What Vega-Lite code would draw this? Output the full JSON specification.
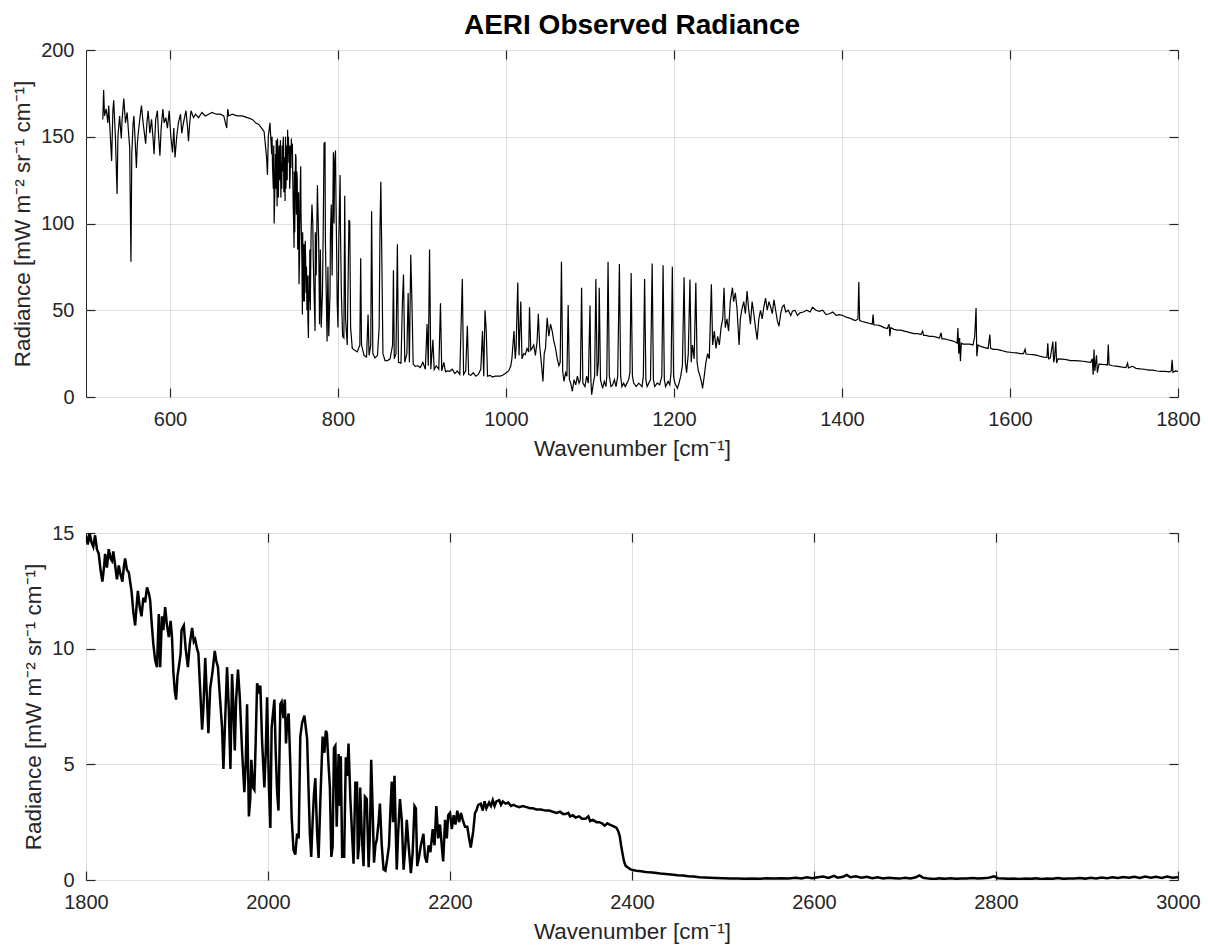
{
"$schema": "https://vega.github.io/schema/vega-lite/v6.json",
"padding": {"left": 11, "top": 11, "right": 5, "bottom": 5},
"background": "white",
"spacing": 62,
"config": {
  "font": "Liberation Sans",
  "view": {"stroke": "#262626", "strokeWidth": 1},
  "axis": {"labelFont": "Liberation Sans", "labelFontSize": 20, "labelColor": "#262626", "titleFont": "Liberation Sans", "titleFontSize": 22.5, "titleFontWeight": "normal", "titleColor": "#262626", "domain": false, "tickColor": "#262626", "tickSize": -9, "tickWidth": 1.2, "gridColor": "#dfdfdf", "gridWidth": 1, "labelFlush": false, "labelOverlap": false, "format": "d"},
  "axisX": {"labelPadding": 21, "titlePadding": 8},
  "axisY": {"labelPadding": 21, "titlePadding": 6}
},
"datasets": {
"top": [
{"w":520,"r":160},{"w":521,"r":177},{"w":522,"r":162},{"w":524,"r":166},{"w":526,"r":158},{"w":527,"r":168},{"w":529,"r":150},{"w":530.5,"r":136},{"w":532,"r":165},{"w":533,"r":171},{"w":535,"r":150},{"w":537,"r":117},{"w":538,"r":150},{"w":540,"r":162},{"w":542,"r":149},{"w":543,"r":160},{"w":545,"r":172},{"w":547,"r":158},{"w":549,"r":164},{"w":551,"r":150},{"w":552,"r":144},{"w":553.5,"r":78},{"w":554.5,"r":140},{"w":556,"r":157},{"w":557,"r":162},{"w":558.5,"r":148},{"w":560,"r":132},{"w":561,"r":145},{"w":562,"r":151},{"w":564,"r":160},{"w":566,"r":168},{"w":568,"r":158},{"w":570,"r":150},{"w":571,"r":146},{"w":572.5,"r":158},{"w":574,"r":165},{"w":576,"r":152},{"w":578,"r":160},{"w":580,"r":148},{"w":581,"r":140},{"w":583,"r":160},{"w":585,"r":165},{"w":586.5,"r":150},{"w":588,"r":139},{"w":589.5,"r":155},{"w":591.5,"r":166},{"w":593,"r":158},{"w":595,"r":161},{"w":597,"r":155},{"w":599,"r":165},{"w":601,"r":150},{"w":603,"r":141},{"w":604.5,"r":155},{"w":606,"r":138},{"w":608,"r":150},{"w":610,"r":158},{"w":612.5,"r":163},{"w":614,"r":152},{"w":616,"r":158},{"w":619,"r":165},{"w":621,"r":155},{"w":622,"r":147.5},{"w":623.5,"r":158},{"w":625,"r":165},{"w":628,"r":161},{"w":630.5,"r":163},{"w":634,"r":161},{"w":638,"r":164},{"w":642,"r":162},{"w":646,"r":163},{"w":650,"r":164},{"w":655,"r":163},{"w":660,"r":163},{"w":664,"r":162},{"w":667.5,"r":155},{"w":668.7,"r":166},{"w":670,"r":162},{"w":674,"r":163},{"w":680,"r":162},{"w":686,"r":162},{"w":692,"r":161},{"w":698,"r":160},{"w":702,"r":158},{"w":706,"r":157},{"w":709,"r":155},{"w":712,"r":153},{"w":713,"r":148},{"w":714,"r":143},{"w":715,"r":138},{"w":716,"r":128},{"w":717,"r":150},{"w":719,"r":158},{"w":720.5,"r":145},{"w":721,"r":140},{"w":721.5,"r":150},{"w":722,"r":134},{"w":723,"r":120},{"w":723.5,"r":145},{"w":724,"r":100},{"w":724.5,"r":112},{"w":725,"r":125},{"w":725.5,"r":140},{"w":726,"r":120},{"w":726.5,"r":148},{"w":727,"r":135},{"w":727.5,"r":110},{"w":728,"r":149},{"w":728.5,"r":140},{"w":729,"r":115},{"w":729.5,"r":130},{"w":730,"r":145},{"w":730.5,"r":125},{"w":731,"r":140},{"w":731.5,"r":148},{"w":732,"r":115},{"w":732.5,"r":135},{"w":733,"r":120},{"w":733.5,"r":145},{"w":734,"r":130},{"w":734.6,"r":147},{"w":735,"r":150},{"w":735.5,"r":118},{"w":736,"r":125},{"w":736.5,"r":138},{"w":737,"r":113},{"w":737.5,"r":150},{"w":738,"r":120},{"w":738.5,"r":140},{"w":739,"r":145},{"w":739.5,"r":125},{"w":740,"r":154},{"w":740.5,"r":140},{"w":741,"r":150},{"w":741.5,"r":135},{"w":742,"r":145},{"w":742.5,"r":120},{"w":743,"r":128},{"w":743.5,"r":145},{"w":744,"r":132},{"w":744.5,"r":149},{"w":745,"r":140},{"w":745.7,"r":146},{"w":746.2,"r":125},{"w":746.7,"r":110},{"w":747.2,"r":100},{"w":747.7,"r":86},{"w":748,"r":130},{"w":748.5,"r":95},{"w":749,"r":120},{"w":749.5,"r":140},{"w":750,"r":138},{"w":750.5,"r":105},{"w":751,"r":130},{"w":751.5,"r":125},{"w":752,"r":85},{"w":752.5,"r":100},{"w":753,"r":118},{"w":753.6,"r":65},{"w":754.2,"r":80},{"w":754.7,"r":110},{"w":755.2,"r":125},{"w":755.6,"r":133},{"w":756,"r":105},{"w":756.6,"r":90},{"w":757,"r":80},{"w":757.6,"r":47.5},{"w":758,"r":95},{"w":758.5,"r":55},{"w":759,"r":60},{"w":759.5,"r":88},{"w":760,"r":55},{"w":760.5,"r":80},{"w":761,"r":90},{"w":761.6,"r":76},{"w":762,"r":60},{"w":762.5,"r":75},{"w":763,"r":50},{"w":763.5,"r":70},{"w":764.2,"r":45},{"w":764.8,"r":34},{"w":765.4,"r":70},{"w":766,"r":55},{"w":766.5,"r":85},{"w":767,"r":50},{"w":767.5,"r":75},{"w":768,"r":95},{"w":769,"r":111},{"w":770,"r":100},{"w":770.5,"r":80},{"w":771.5,"r":60},{"w":772.7,"r":38},{"w":773,"r":95},{"w":774,"r":70},{"w":775.5,"r":122},{"w":776,"r":110},{"w":777,"r":90},{"w":778,"r":42},{"w":779,"r":85},{"w":780,"r":40},{"w":781.5,"r":60},{"w":782.5,"r":100},{"w":783.4,"r":146},{"w":784.5,"r":147},{"w":785,"r":90},{"w":786,"r":60},{"w":787,"r":32},{"w":788,"r":75},{"w":789,"r":35},{"w":790.5,"r":60},{"w":791,"r":95},{"w":792,"r":111},{"w":793,"r":70},{"w":794.5,"r":141},{"w":795.3,"r":100},{"w":796,"r":135},{"w":797,"r":142},{"w":797.7,"r":110},{"w":798.5,"r":80},{"w":799,"r":55},{"w":800,"r":40},{"w":801,"r":90},{"w":802.5,"r":128},{"w":803,"r":95},{"w":804,"r":60},{"w":805.5,"r":35},{"w":807,"r":34},{"w":808,"r":116},{"w":809,"r":45},{"w":811,"r":30},{"w":813,"r":102},{"w":814,"r":101},{"w":815,"r":40},{"w":817,"r":28},{"w":820,"r":27},{"w":823,"r":26},{"w":826,"r":30},{"w":827,"r":80},{"w":828,"r":30},{"w":831,"r":24},{"w":834,"r":23},{"w":835.8,"r":47.5},{"w":837,"r":24},{"w":839,"r":30},{"w":840,"r":107},{"w":841.5,"r":25},{"w":844,"r":22.5},{"w":847,"r":24},{"w":849,"r":40},{"w":850,"r":98},{"w":851,"r":124},{"w":852,"r":87},{"w":853.5,"r":25},{"w":856,"r":21},{"w":859,"r":21},{"w":862,"r":22},{"w":865,"r":30},{"w":866,"r":73},{"w":867,"r":22},{"w":869,"r":25},{"w":870.7,"r":88},{"w":872,"r":20},{"w":875,"r":19.5},{"w":876.7,"r":55},{"w":878,"r":70.6},{"w":879.5,"r":20},{"w":882,"r":25},{"w":883.5,"r":60},{"w":885,"r":20},{"w":886.6,"r":82},{"w":888,"r":55},{"w":889.5,"r":19},{"w":892,"r":17.7},{"w":895,"r":18},{"w":898,"r":17},{"w":901,"r":20},{"w":904,"r":16},{"w":906,"r":42},{"w":907.5,"r":18},{"w":909,"r":85},{"w":910.5,"r":16},{"w":913,"r":33},{"w":914.5,"r":15.8},{"w":917,"r":18},{"w":920,"r":16},{"w":922,"r":54},{"w":923.5,"r":15},{"w":926,"r":20},{"w":928,"r":14.5},{"w":930,"r":15},{"w":933,"r":14.8},{"w":936,"r":16},{"w":939,"r":13.5},{"w":942,"r":15},{"w":945,"r":13},{"w":948,"r":68},{"w":949.5,"r":13},{"w":952,"r":15},{"w":954,"r":41},{"w":955.5,"r":13},{"w":958,"r":12.5},{"w":961,"r":14},{"w":964,"r":12},{"w":967,"r":13},{"w":970,"r":16},{"w":972,"r":38},{"w":973.5,"r":12},{"w":975,"r":50},{"w":976.5,"r":38},{"w":978,"r":12},{"w":981,"r":12.5},{"w":984,"r":11.5},{"w":987,"r":12},{"w":990,"r":12},{"w":993,"r":12},{"w":996,"r":12.5},{"w":1000,"r":13.8},{"w":1003,"r":15},{"w":1005.6,"r":17.7},{"w":1007,"r":22},{"w":1009.5,"r":38},{"w":1011,"r":22},{"w":1012,"r":28},{"w":1014,"r":66},{"w":1015.5,"r":24},{"w":1017.6,"r":55},{"w":1019,"r":22},{"w":1021,"r":25},{"w":1023,"r":24.4},{"w":1025,"r":28},{"w":1027,"r":26},{"w":1028,"r":51.7},{"w":1029.5,"r":27},{"w":1031,"r":28},{"w":1033,"r":30},{"w":1035,"r":24},{"w":1037,"r":32},{"w":1038.5,"r":48},{"w":1040,"r":30},{"w":1042,"r":20},{"w":1044,"r":9},{"w":1045.5,"r":25},{"w":1047,"r":28},{"w":1049,"r":45.6},{"w":1051,"r":35},{"w":1053,"r":42},{"w":1055,"r":38},{"w":1057,"r":32},{"w":1059,"r":28},{"w":1061,"r":22},{"w":1063,"r":18},{"w":1064.5,"r":20},{"w":1066,"r":78},{"w":1067.5,"r":15},{"w":1069,"r":9},{"w":1071,"r":14},{"w":1072.5,"r":12},{"w":1074,"r":53},{"w":1075.5,"r":10},{"w":1077,"r":8},{"w":1079,"r":3.3},{"w":1081,"r":10},{"w":1083,"r":7},{"w":1085,"r":12},{"w":1087,"r":8},{"w":1088.5,"r":10},{"w":1090,"r":63},{"w":1091.5,"r":8},{"w":1094,"r":6},{"w":1096,"r":12},{"w":1098,"r":8},{"w":1100,"r":52.7},{"w":1101,"r":10},{"w":1102,"r":1.3},{"w":1104,"r":8},{"w":1105.5,"r":12},{"w":1107,"r":68},{"w":1108.5,"r":12},{"w":1110,"r":20},{"w":1111,"r":63},{"w":1112.5,"r":10},{"w":1115,"r":5},{"w":1117,"r":9},{"w":1119,"r":6},{"w":1120,"r":12},{"w":1121.5,"r":78},{"w":1123,"r":12},{"w":1125,"r":6},{"w":1127,"r":7},{"w":1129,"r":10},{"w":1131,"r":6},{"w":1133,"r":12},{"w":1135,"r":76.7},{"w":1136.5,"r":12},{"w":1138,"r":6},{"w":1140,"r":8},{"w":1142,"r":6},{"w":1144,"r":8},{"w":1146,"r":10},{"w":1147.5,"r":14},{"w":1149,"r":71.5},{"w":1150.5,"r":12},{"w":1152,"r":8},{"w":1155,"r":6},{"w":1158,"r":8},{"w":1160,"r":7},{"w":1162,"r":6},{"w":1163.5,"r":12},{"w":1165,"r":68},{"w":1166.5,"r":10},{"w":1168,"r":6},{"w":1170,"r":8},{"w":1172,"r":10},{"w":1174,"r":77},{"w":1175.5,"r":10},{"w":1177,"r":6},{"w":1180,"r":8},{"w":1183,"r":7},{"w":1185.5,"r":12},{"w":1187,"r":76},{"w":1188.5,"r":10},{"w":1190,"r":6},{"w":1193,"r":9},{"w":1195,"r":7},{"w":1196.5,"r":14},{"w":1198,"r":75},{"w":1199.5,"r":12},{"w":1201,"r":8},{"w":1204,"r":5},{"w":1206,"r":8},{"w":1208,"r":12},{"w":1210,"r":18},{"w":1212,"r":69},{"w":1213.5,"r":20},{"w":1215,"r":14},{"w":1217,"r":25},{"w":1219,"r":67.7},{"w":1220.5,"r":20},{"w":1222,"r":30},{"w":1224,"r":22},{"w":1226,"r":65.8},{"w":1227.5,"r":20},{"w":1229,"r":15},{"w":1231,"r":12},{"w":1233,"r":8},{"w":1234,"r":5},{"w":1236,"r":12},{"w":1238,"r":20},{"w":1240,"r":25},{"w":1242,"r":22},{"w":1244.5,"r":65},{"w":1246,"r":30},{"w":1248,"r":38},{"w":1250,"r":28},{"w":1252,"r":35},{"w":1254,"r":30},{"w":1256,"r":40},{"w":1258,"r":45},{"w":1259.6,"r":63},{"w":1261,"r":40},{"w":1263,"r":45},{"w":1265,"r":38},{"w":1267,"r":55},{"w":1269.6,"r":63},{"w":1271,"r":55},{"w":1273,"r":60},{"w":1275,"r":51},{"w":1277.5,"r":30},{"w":1279,"r":45},{"w":1281,"r":51},{"w":1283,"r":55},{"w":1285,"r":48},{"w":1287,"r":61},{"w":1289,"r":50},{"w":1291,"r":42},{"w":1293,"r":55},{"w":1295,"r":48},{"w":1297,"r":40},{"w":1299,"r":33},{"w":1301,"r":45},{"w":1303,"r":50},{"w":1305,"r":45},{"w":1307,"r":52},{"w":1309,"r":57},{"w":1311,"r":50},{"w":1313,"r":55},{"w":1315,"r":52},{"w":1317,"r":48},{"w":1319,"r":56},{"w":1321,"r":50},{"w":1323,"r":44},{"w":1325,"r":40.8},{"w":1327,"r":48},{"w":1329,"r":52},{"w":1331,"r":53},{"w":1333,"r":49},{"w":1336,"r":50},{"w":1339,"r":47},{"w":1341,"r":49.4},{"w":1344,"r":50},{"w":1347,"r":47},{"w":1350,"r":48.5},{"w":1354,"r":49},{"w":1358,"r":50},{"w":1362,"r":49},{"w":1365,"r":51.7},{"w":1369,"r":50},{"w":1373,"r":49.4},{"w":1377,"r":50},{"w":1381,"r":47.5},{"w":1385,"r":48},{"w":1389,"r":49},{"w":1393,"r":47},{"w":1397,"r":47.5},{"w":1401,"r":47},{"w":1405,"r":46},{"w":1409,"r":45.5},{"w":1413,"r":44.6},{"w":1416,"r":44},{"w":1419,"r":45},{"w":1420,"r":66.3},{"w":1421,"r":44},{"w":1424,"r":43.5},{"w":1428,"r":43},{"w":1432,"r":42.5},{"w":1436,"r":42},{"w":1437,"r":47.5},{"w":1438,"r":41.5},{"w":1442,"r":41.5},{"w":1446,"r":41},{"w":1450,"r":40},{"w":1454,"r":39.5},{"w":1456,"r":42},{"w":1457,"r":35},{"w":1458,"r":40},{"w":1462,"r":39},{"w":1466,"r":38.5},{"w":1470,"r":38.5},{"w":1474,"r":38},{"w":1478,"r":37.5},{"w":1482,"r":37},{"w":1486,"r":36.5},{"w":1490,"r":36.5},{"w":1494,"r":36},{"w":1496,"r":38},{"w":1497,"r":35.5},{"w":1500,"r":35.5},{"w":1504,"r":35},{"w":1508,"r":35},{"w":1512,"r":34.5},{"w":1516,"r":34},{"w":1518,"r":37},{"w":1519,"r":33.5},{"w":1522,"r":33.5},{"w":1526,"r":33},{"w":1530,"r":32.5},{"w":1534,"r":32},{"w":1537,"r":31},{"w":1538,"r":39.8},{"w":1539,"r":25},{"w":1540,"r":34},{"w":1541,"r":20.6},{"w":1542,"r":31},{"w":1544,"r":30.5},{"w":1548,"r":30.5},{"w":1552,"r":30.5},{"w":1556,"r":30},{"w":1558,"r":35},{"w":1559.6,"r":51.3},{"w":1560.5,"r":23.5},{"w":1562,"r":30},{"w":1566,"r":29},{"w":1570,"r":28.5},{"w":1574,"r":28},{"w":1576,"r":36},{"w":1577,"r":28},{"w":1580,"r":27.5},{"w":1584,"r":27.5},{"w":1588,"r":27},{"w":1592,"r":26.5},{"w":1596,"r":26},{"w":1600,"r":25.8},{"w":1604,"r":25.5},{"w":1608,"r":25.4},{"w":1612,"r":25},{"w":1616,"r":25},{"w":1618,"r":27.5},{"w":1619,"r":24.8},{"w":1624,"r":24.5},{"w":1628,"r":24.4},{"w":1632,"r":24},{"w":1636,"r":23.5},{"w":1640,"r":23},{"w":1644,"r":22.8},{"w":1645,"r":31},{"w":1646,"r":22},{"w":1648,"r":22.5},{"w":1651,"r":32},{"w":1652,"r":20},{"w":1653,"r":22.5},{"w":1654.5,"r":32},{"w":1655.5,"r":19.6},{"w":1657,"r":22},{"w":1662,"r":21.8},{"w":1667,"r":21.5},{"w":1672,"r":21},{"w":1677,"r":21},{"w":1682,"r":20.8},{"w":1687,"r":20.6},{"w":1692,"r":20.2},{"w":1696,"r":20},{"w":1698,"r":22},{"w":1699,"r":12.9},{"w":1700,"r":27.3},{"w":1701,"r":15},{"w":1702,"r":19.5},{"w":1703,"r":24},{"w":1704,"r":14},{"w":1706,"r":19},{"w":1710,"r":18.8},{"w":1714,"r":18.7},{"w":1716,"r":18.5},{"w":1717,"r":30.2},{"w":1718,"r":18.5},{"w":1722,"r":18},{"w":1726,"r":17.8},{"w":1730,"r":17.5},{"w":1734,"r":17.2},{"w":1738,"r":17},{"w":1740,"r":19.5},{"w":1741,"r":16.8},{"w":1746,"r":17.7},{"w":1750,"r":16.5},{"w":1755,"r":16.2},{"w":1760,"r":16},{"w":1765,"r":15.5},{"w":1770,"r":15.5},{"w":1775,"r":15},{"w":1780,"r":14.8},{"w":1785,"r":14.8},{"w":1790,"r":14.5},{"w":1792,"r":15},{"w":1793,"r":21.5},{"w":1794,"r":14.2},{"w":1797,"r":15},{"w":1800,"r":14.8}
],
"bot": [
{"w":1800,"r":14.9},{"w":1802,"r":14.5},{"w":1804,"r":15.0},{"w":1806,"r":14.6},{"w":1808,"r":14.4},{"w":1810,"r":14.9},{"w":1812,"r":14.3},{"w":1814,"r":14.1},{"w":1816,"r":13.4},{"w":1818,"r":12.9},{"w":1820,"r":13.6},{"w":1821,"r":14.1},{"w":1823,"r":13.5},{"w":1825,"r":14.3},{"w":1827,"r":13.9},{"w":1828.5,"r":13.8},{"w":1830,"r":14.2},{"w":1832,"r":13.6},{"w":1834,"r":13.0},{"w":1836,"r":13.6},{"w":1838,"r":13.2},{"w":1840,"r":12.9},{"w":1841.5,"r":13.5},{"w":1843,"r":13.9},{"w":1845,"r":13.4},{"w":1847,"r":13.3},{"w":1848.5,"r":12.9},{"w":1850,"r":12.5},{"w":1852,"r":11.6},{"w":1854,"r":11.0},{"w":1855.5,"r":11.8},{"w":1857,"r":12.5},{"w":1859,"r":11.8},{"w":1861,"r":11.4},{"w":1863,"r":12.2},{"w":1865,"r":12.0},{"w":1867,"r":12.65},{"w":1869,"r":12.4},{"w":1870.5,"r":12.1},{"w":1872,"r":11.2},{"w":1874,"r":10.2},{"w":1876,"r":9.5},{"w":1878,"r":9.2},{"w":1880,"r":11.5},{"w":1881.5,"r":9.2},{"w":1883.5,"r":11.4},{"w":1885,"r":10.8},{"w":1887,"r":11.8},{"w":1889,"r":11.0},{"w":1891,"r":10.5},{"w":1893,"r":11.2},{"w":1894.5,"r":10.5},{"w":1896,"r":9.0},{"w":1897.5,"r":8.2},{"w":1899,"r":7.8},{"w":1900.5,"r":8.8},{"w":1902,"r":9.2},{"w":1904,"r":9.8},{"w":1905,"r":10.8},{"w":1907.5,"r":11.0},{"w":1909.5,"r":10.0},{"w":1912,"r":9.2},{"w":1914,"r":10.2},{"w":1916.6,"r":10.9},{"w":1918.5,"r":10.3},{"w":1920,"r":10.4},{"w":1922,"r":10.0},{"w":1923.5,"r":9.8},{"w":1925.5,"r":8.2},{"w":1927.6,"r":6.5},{"w":1929,"r":7.4},{"w":1931,"r":9.6},{"w":1933,"r":7.8},{"w":1934.5,"r":6.35},{"w":1936.5,"r":8.3},{"w":1939,"r":9.0},{"w":1941.5,"r":9.9},{"w":1943,"r":9.5},{"w":1945,"r":9.2},{"w":1947,"r":8.0},{"w":1949.5,"r":6.6},{"w":1951,"r":4.8},{"w":1953,"r":7.0},{"w":1955,"r":9.2},{"w":1957,"r":7.3},{"w":1958.7,"r":4.8},{"w":1960.5,"r":8.9},{"w":1962,"r":7.5},{"w":1963.5,"r":5.6},{"w":1965,"r":7.8},{"w":1967,"r":9.1},{"w":1969,"r":7.9},{"w":1971.5,"r":5.6},{"w":1974,"r":3.8},{"w":1975.5,"r":5.0},{"w":1977,"r":7.6},{"w":1979,"r":2.75},{"w":1980.5,"r":3.5},{"w":1981.7,"r":5.2},{"w":1983.5,"r":4.0},{"w":1985,"r":3.9},{"w":1986.5,"r":6.0},{"w":1988,"r":8.5},{"w":1990,"r":8.2},{"w":1991.6,"r":8.4},{"w":1993.5,"r":6.0},{"w":1996,"r":4.0},{"w":1997.5,"r":5.5},{"w":1999,"r":7.9},{"w":2001,"r":4.0},{"w":2002.6,"r":2.25},{"w":2004,"r":6.6},{"w":2007,"r":7.8},{"w":2008.5,"r":5.5},{"w":2010,"r":3.8},{"w":2011.5,"r":3.0},{"w":2013.6,"r":7.6},{"w":2015,"r":7.7},{"w":2017,"r":7.0},{"w":2018.5,"r":7.8},{"w":2019.8,"r":5.9},{"w":2021,"r":6.8},{"w":2022.7,"r":7.2},{"w":2024.5,"r":5.0},{"w":2026,"r":2.7},{"w":2028,"r":1.3},{"w":2030,"r":1.1},{"w":2032,"r":2.0},{"w":2033.7,"r":1.8},{"w":2035.5,"r":6.2},{"w":2037.5,"r":6.8},{"w":2040,"r":7.1},{"w":2041.5,"r":6.6},{"w":2043,"r":6.1},{"w":2044.5,"r":4.0},{"w":2046,"r":2.0},{"w":2047.5,"r":1.0},{"w":2049,"r":2.5},{"w":2050.5,"r":3.7},{"w":2052,"r":4.4},{"w":2054,"r":2.0},{"w":2055.6,"r":0.95},{"w":2057.5,"r":3.4},{"w":2060,"r":6.2},{"w":2062,"r":5.5},{"w":2063.5,"r":6.45},{"w":2064.7,"r":6.35},{"w":2066.5,"r":5.0},{"w":2068,"r":4.0},{"w":2069.6,"r":1.0},{"w":2071,"r":1.45},{"w":2072.5,"r":5.7},{"w":2074,"r":5.8},{"w":2075.5,"r":2.3},{"w":2077.6,"r":5.45},{"w":2079,"r":3.2},{"w":2080,"r":5.35},{"w":2081.5,"r":1.0},{"w":2083.7,"r":1.0},{"w":2085.5,"r":5.3},{"w":2087,"r":4.5},{"w":2088.5,"r":5.9},{"w":2090.5,"r":3.5},{"w":2092,"r":2.3},{"w":2094,"r":0.7},{"w":2096,"r":4.2},{"w":2097.8,"r":4.2},{"w":2098.7,"r":0.9},{"w":2100,"r":1.5},{"w":2101.3,"r":4.0},{"w":2103,"r":2.0},{"w":2105,"r":0.6},{"w":2106.5,"r":3.6},{"w":2108.5,"r":3.5},{"w":2110.6,"r":0.55},{"w":2112,"r":2.0},{"w":2113.4,"r":5.2},{"w":2115,"r":3.0},{"w":2116.5,"r":0.75},{"w":2118,"r":1.5},{"w":2119.6,"r":1.75},{"w":2121.5,"r":2.5},{"w":2123,"r":3.3},{"w":2125,"r":1.5},{"w":2127,"r":0.45},{"w":2129,"r":0.4},{"w":2131,"r":0.9},{"w":2133,"r":1.5},{"w":2134.5,"r":3.0},{"w":2136,"r":4.25},{"w":2137.5,"r":2.5},{"w":2139,"r":4.5},{"w":2140.5,"r":2.0},{"w":2141.5,"r":0.45},{"w":2143,"r":2.0},{"w":2145,"r":3.5},{"w":2147,"r":2.6},{"w":2149,"r":0.45},{"w":2151,"r":1.5},{"w":2152.5,"r":2.6},{"w":2154.5,"r":1.5},{"w":2157,"r":0.3},{"w":2159,"r":1.2},{"w":2161,"r":3.2},{"w":2162.5,"r":3.1},{"w":2164,"r":0.6},{"w":2166,"r":1.0},{"w":2168,"r":1.5},{"w":2170.8,"r":2.0},{"w":2172.5,"r":1.0},{"w":2174.5,"r":0.75},{"w":2176.5,"r":1.5},{"w":2178.5,"r":1.2},{"w":2181,"r":2.2},{"w":2183,"r":1.5},{"w":2185,"r":3.2},{"w":2187,"r":1.8},{"w":2189,"r":2.4},{"w":2191,"r":1.45},{"w":2192.5,"r":0.8},{"w":2194.6,"r":2.6},{"w":2196.5,"r":1.8},{"w":2198,"r":2.8},{"w":2200,"r":2.9},{"w":2202,"r":2.2},{"w":2204,"r":2.8},{"w":2206,"r":2.4},{"w":2208,"r":3.0},{"w":2210,"r":2.5},{"w":2212,"r":2.9},{"w":2214,"r":2.6},{"w":2216.5,"r":2.3},{"w":2219,"r":2.3},{"w":2221,"r":1.8},{"w":2222.8,"r":1.4},{"w":2224,"r":1.7},{"w":2225.5,"r":2.1},{"w":2227.5,"r":2.9},{"w":2229,"r":3.0},{"w":2231,"r":3.25},{"w":2233.8,"r":3.3},{"w":2236,"r":3.0},{"w":2238,"r":3.4},{"w":2240,"r":3.1},{"w":2243,"r":3.35},{"w":2245,"r":3.2},{"w":2247,"r":3.45},{"w":2249,"r":3.2},{"w":2251,"r":3.4},{"w":2254,"r":3.45},{"w":2256,"r":3.25},{"w":2258,"r":3.4},{"w":2261,"r":3.3},{"w":2264,"r":3.35},{"w":2267,"r":3.2},{"w":2270,"r":3.25},{"w":2272,"r":3.2},{"w":2276,"r":3.15},{"w":2280,"r":3.2},{"w":2284,"r":3.15},{"w":2288,"r":3.1},{"w":2291,"r":3.1},{"w":2295,"r":3.05},{"w":2300,"r":3.05},{"w":2305,"r":3.0},{"w":2309,"r":3.0},{"w":2313,"r":2.95},{"w":2317,"r":2.9},{"w":2321,"r":2.95},{"w":2324,"r":2.85},{"w":2327,"r":2.85},{"w":2330,"r":2.9},{"w":2332,"r":2.75},{"w":2335,"r":2.8},{"w":2338,"r":2.7},{"w":2342,"r":2.75},{"w":2345,"r":2.65},{"w":2349,"r":2.65},{"w":2352,"r":2.75},{"w":2354,"r":2.55},{"w":2357,"r":2.6},{"w":2361,"r":2.5},{"w":2364,"r":2.5},{"w":2367,"r":2.45},{"w":2370,"r":2.35},{"w":2373,"r":2.45},{"w":2375,"r":2.4},{"w":2378,"r":2.35},{"w":2381,"r":2.3},{"w":2383,"r":2.25},{"w":2385,"r":2.1},{"w":2386.5,"r":1.9},{"w":2388,"r":1.5},{"w":2389,"r":1.27},{"w":2390.5,"r":0.95},{"w":2391.6,"r":0.76},{"w":2393,"r":0.62},{"w":2395,"r":0.55},{"w":2398,"r":0.47},{"w":2400.7,"r":0.43},{"w":2405,"r":0.4},{"w":2410,"r":0.38},{"w":2415,"r":0.35},{"w":2419,"r":0.33},{"w":2425,"r":0.31},{"w":2431,"r":0.28},{"w":2437,"r":0.26},{"w":2443,"r":0.24},{"w":2450,"r":0.21},{"w":2456,"r":0.19},{"w":2462,"r":0.16},{"w":2468,"r":0.15},{"w":2474,"r":0.12},{"w":2480,"r":0.11},{"w":2486,"r":0.1},{"w":2492,"r":0.09},{"w":2500,"r":0.08},{"w":2508,"r":0.06},{"w":2516,"r":0.07},{"w":2524,"r":0.05},{"w":2532,"r":0.07},{"w":2540,"r":0.05},{"w":2548,"r":0.08},{"w":2556,"r":0.06},{"w":2564,"r":0.08},{"w":2572,"r":0.06},{"w":2580,"r":0.1},{"w":2586,"r":0.07},{"w":2592,"r":0.12},{"w":2598,"r":0.08},{"w":2604,"r":0.12},{"w":2610,"r":0.15},{"w":2616,"r":0.09},{"w":2622,"r":0.18},{"w":2626,"r":0.1},{"w":2632,"r":0.14},{"w":2636,"r":0.22},{"w":2640,"r":0.12},{"w":2646,"r":0.16},{"w":2652,"r":0.1},{"w":2658,"r":0.14},{"w":2664,"r":0.08},{"w":2670,"r":0.12},{"w":2676,"r":0.07},{"w":2682,"r":0.1},{"w":2688,"r":0.08},{"w":2694,"r":0.06},{"w":2700,"r":0.1},{"w":2706,"r":0.07},{"w":2712,"r":0.12},{"w":2716,"r":0.2},{"w":2720,"r":0.1},{"w":2726,"r":0.06},{"w":2732,"r":0.04},{"w":2738,"r":0.07},{"w":2744,"r":0.05},{"w":2750,"r":0.08},{"w":2756,"r":0.05},{"w":2762,"r":0.07},{"w":2768,"r":0.06},{"w":2774,"r":0.09},{"w":2780,"r":0.06},{"w":2786,"r":0.08},{"w":2792,"r":0.1},{"w":2798,"r":0.16},{"w":2802,"r":0.08},{"w":2808,"r":0.07},{"w":2814,"r":0.05},{"w":2820,"r":0.06},{"w":2826,"r":0.04},{"w":2832,"r":0.06},{"w":2838,"r":0.05},{"w":2844,"r":0.07},{"w":2850,"r":0.04},{"w":2856,"r":0.06},{"w":2862,"r":0.05},{"w":2868,"r":0.09},{"w":2874,"r":0.05},{"w":2880,"r":0.07},{"w":2886,"r":0.06},{"w":2892,"r":0.09},{"w":2898,"r":0.06},{"w":2904,"r":0.1},{"w":2910,"r":0.07},{"w":2916,"r":0.11},{"w":2922,"r":0.08},{"w":2928,"r":0.12},{"w":2934,"r":0.09},{"w":2940,"r":0.13},{"w":2946,"r":0.1},{"w":2952,"r":0.14},{"w":2958,"r":0.09},{"w":2964,"r":0.15},{"w":2970,"r":0.1},{"w":2976,"r":0.14},{"w":2982,"r":0.09},{"w":2988,"r":0.15},{"w":2994,"r":0.1},{"w":3000,"r":0.12}
]
},
"vconcat": [
{
  "width": 1092, "height": 347,
  "title": {"text": "AERI Observed Radiance", "frame": "group", "anchor": "middle", "font": "Liberation Sans", "fontSize": 28, "fontWeight": "bold", "color": "#000000", "offset": 0},
  "data": {"name": "top"},
  "layer": [
    {"mark": {"type": "line", "color": "#000000", "strokeWidth": 1.2, "clip": true},
     "encoding": {
       "x": {"field": "w", "type": "quantitative", "scale": {"domain": [500, 1800], "nice": false, "zero": false}, "axis": {"orient": "bottom", "values": [600, 800, 1000, 1200, 1400, 1600, 1800], "title": "Wavenumber [cm⁻¹]", "grid": true}},
       "y": {"field": "r", "type": "quantitative", "scale": {"domain": [0, 200], "nice": false}, "axis": {"orient": "left", "values": [0, 50, 100, 150, 200], "title": "Radiance [mW m⁻² sr⁻¹ cm⁻¹]", "grid": true}}
     }},
    {"mark": {"type": "line", "opacity": 0},
     "encoding": {
       "x": {"field": "w", "type": "quantitative", "axis": {"orient": "top", "values": [600, 800, 1000, 1200, 1400, 1600, 1800], "labels": false, "grid": false, "title": null}},
       "y": {"field": "r", "type": "quantitative", "axis": {"orient": "right", "values": [0, 50, 100, 150, 200], "labels": false, "grid": false, "title": null}}
     }}
  ],
  "resolve": {"axis": {"x": "independent", "y": "independent"}}
},
{
  "width": 1092, "height": 347,
  "data": {"name": "bot"},
  "layer": [
    {"mark": {"type": "line", "color": "#000000", "strokeWidth": 2.5, "clip": true},
     "encoding": {
       "x": {"field": "w", "type": "quantitative", "scale": {"domain": [1800, 3000], "nice": false, "zero": false}, "axis": {"orient": "bottom", "values": [1800, 2000, 2200, 2400, 2600, 2800, 3000], "title": "Wavenumber [cm⁻¹]", "grid": true}},
       "y": {"field": "r", "type": "quantitative", "scale": {"domain": [0, 15], "nice": false}, "axis": {"orient": "left", "values": [0, 5, 10, 15], "title": "Radiance [mW m⁻² sr⁻¹ cm⁻¹]", "grid": true}}
     }},
    {"mark": {"type": "line", "opacity": 0},
     "encoding": {
       "x": {"field": "w", "type": "quantitative", "axis": {"orient": "top", "values": [1800, 2000, 2200, 2400, 2600, 2800, 3000], "labels": false, "grid": false, "title": null}},
       "y": {"field": "r", "type": "quantitative", "axis": {"orient": "right", "values": [0, 5, 10, 15], "labels": false, "grid": false, "title": null}}
     }}
  ],
  "resolve": {"axis": {"x": "independent", "y": "independent"}}
}
]
}
